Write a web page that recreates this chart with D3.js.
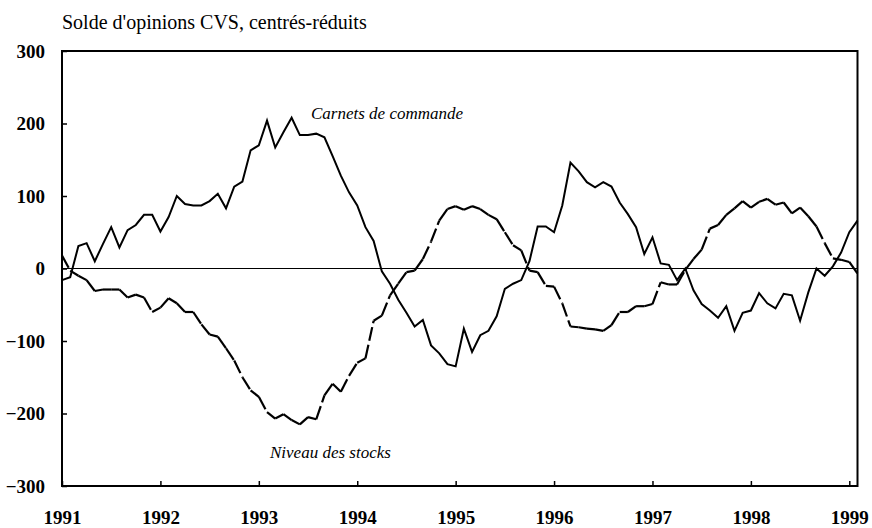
<!DOCTYPE html>
<html>
<head>
<meta charset="utf-8">
<script src="https://cdn.jsdelivr.net/npm/d3@7"></script>
<style>
  body { margin: 0; background: #fff; }
  svg text { font-family: "Liberation Serif", "Times New Roman", serif; fill: #000; }
</style>
</head>
<body>
<div id="chart"></div>
<script>
// Soldes d'opinions mensuels CVS, centrés-réduits : janv. 1991 -> fév. 1999
const TITLE = "Solde d'opinions CVS, centrés-réduits";
const YEARS = [1991, 1992, 1993, 1994, 1995, 1996, 1997, 1998, 1999];
const Y_TICKS = [-300, -200, -100, 0, 100, 200, 300];

// Carnets de commande (trait plein)
const CARNETS = [
  -16, -12, 31, 35, 10, 34, 57, 29, 53, 60, 74, 74,
  51, 71, 100, 89, 87, 87, 93, 103, 83, 113, 120, 163,
  170, 204, 167, 188, 208, 184, 184, 186, 181, 155, 128, 105,
  87, 57, 38, -4, -21, -43, -61, -80, -71, -106, -117, -132,
  -135, -83, -115, -92, -86, -66, -28, -21, -16, 10, 58, 58,
  50, 87, 146, 134, 119, 112, 119, 113, 91, 75, 57, 20,
  43, 7, 5, -16, 0, -30, -49, -58, -68, -52, -86, -61,
  -58, -34, -48, -55, -35, -37, -72, -33, 0, -10, 3, 22,
  50, 66
];
// Niveau des stocks (tirets)
const STOCKS = [
  18, -3, -10, -16, -31, -29, -29, -29, -40, -36, -40, -60,
  -54, -41, -48, -60, -60, -77, -91, -94, -110, -127, -150, -168,
  -177, -198, -207, -201, -209, -215, -205, -208, -175, -159, -170, -148,
  -130, -124, -72, -65, -37, -21, -5, -3, 13, 37, 66, 82,
  86, 81, 86, 82, 74, 68, 50, 32, 25, -3, -5, -24,
  -25, -48, -80, -81, -83, -84, -86, -78, -60, -60, -52, -52,
  -49, -19, -22, -22, -2, 13, 26, 55, 60, 74, 83, 93,
  84, 92, 96, 88, 91, 76, 84, 72, 58, 35, 14, 12,
  9, -7
];

const W = 872, H = 528;
const L = 62, R = 857.5, T = 51, B = 486;

const svg = d3.select("#chart").append("svg")
  .attr("width", W).attr("height", H)
  .attr("viewBox", `0 0 ${W} ${H}`);

const x = d3.scaleLinear().domain([0, CARNETS.length - 1]).range([L, R]);
const y = d3.scaleLinear().domain([-300, 300]).range([B, T]);

// titre
svg.append("text").attr("x", 62).attr("y", 29)
  .style("font-size", "20px").text(TITLE);

// ligne zéro
svg.append("line")
  .attr("x1", L).attr("x2", R).attr("y1", y(0)).attr("y2", y(0))
  .attr("stroke", "#000").attr("stroke-width", 1);

// axe vertical : graduations vers l'intérieur, libellés à gauche
const yAxis = d3.axisLeft(y).tickValues(Y_TICKS).tickSize(-5).tickPadding(17);
const gy = svg.append("g").attr("transform", `translate(${L},0)`).call(yAxis);
gy.select(".domain").remove();
gy.selectAll(".tick line").attr("stroke", "#000").attr("stroke-width", 1.5);
gy.selectAll(".tick text")
  .style("font-family", '"Liberation Serif", serif')
  .style("font-size", "19px").style("font-weight", "bold");

// axe horizontal : un repère par janvier
const months = YEARS.map((yr, i) => i * 12);
const xAxis = d3.axisBottom(x).tickValues(months)
  .tickFormat((d, i) => String(YEARS[i])).tickSize(-5).tickPadding(24.5);
const gx = svg.append("g").attr("transform", `translate(0,${B})`).call(xAxis);
gx.select(".domain").remove();
gx.selectAll(".tick line").attr("stroke", "#000").attr("stroke-width", 1.5);
gx.selectAll(".tick text")
  .style("font-family", '"Liberation Serif", serif')
  .style("font-size", "19px").style("font-weight", "bold");

// cadre
svg.append("rect")
  .attr("x", L).attr("y", T).attr("width", R - L).attr("height", B - T)
  .attr("fill", "none").attr("stroke", "#000").attr("stroke-width", 2);

const line = d3.line().x(d => x(d[0])).y(d => y(d[1]));

// carnets : trait plein
svg.append("path")
  .attr("d", line(CARNETS.map((v, i) => [i, v])))
  .attr("fill", "none").attr("stroke", "#000").attr("stroke-width", 2)
  .attr("stroke-linejoin", "miter");

// stocks : tirets, motif repris à chaque segment mensuel (comme le tableur d'origine)
d3.pairs(STOCKS.map((v, i) => [i, v])).forEach(seg => {
  svg.append("path")
    .attr("d", line(seg))
    .attr("fill", "none").attr("stroke", "#000").attr("stroke-width", 2.2)
    .attr("stroke-dasharray", "14,4");
});

// étiquettes des séries
svg.append("text").attr("x", 311).attr("y", 119)
  .style("font-size", "17px").style("font-style", "italic")
  .text("Carnets de commande");
svg.append("text").attr("x", 270).attr("y", 458)
  .style("font-size", "17px").style("font-style", "italic")
  .text("Niveau des stocks");
</script>
</body>
</html>
